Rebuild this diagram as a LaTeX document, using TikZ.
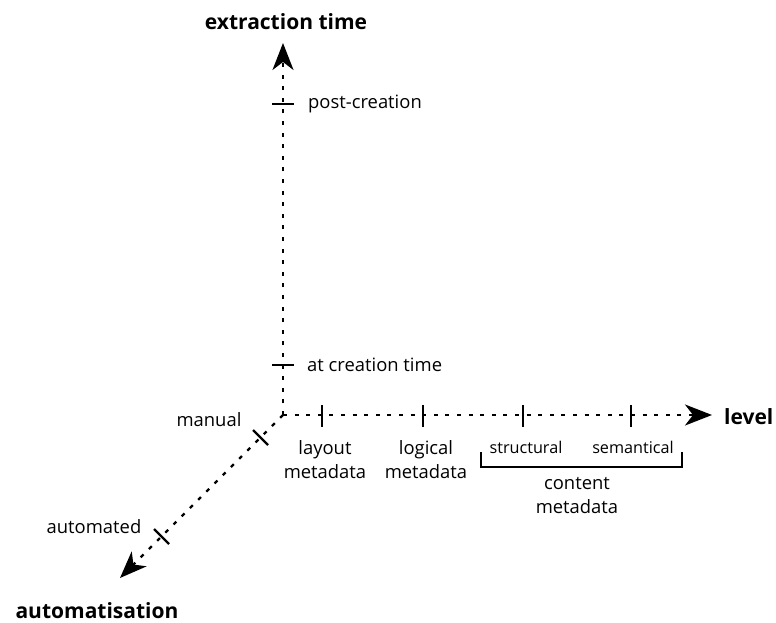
\documentclass[tikz,border=0pt]{standalone}
\usepackage{fontspec}
\setmainfont{Open Sans}
\usetikzlibrary{arrows.meta}
\begin{document}
\begin{tikzpicture}[x=1pt,y=-1pt,
  axis/.style={line width=2.2pt,dash pattern=on 4pt off 7.6pt,
    -{Stealth[length=27pt,width=21pt,inset=8pt]}},
  tick/.style={line width=2.4pt},
  brace/.style={line width=2pt},
  lbl/.style={inner sep=0pt,font=\fontsize{18.4}{21}\selectfont},
  small/.style={inner sep=0pt,font=\fontsize{16.2}{19}\selectfont},
  axlbl/.style={inner sep=0pt,font=\fontsize{21}{25}\bfseries},
  two/.style={lbl,align=center,font=\fontsize{18.4}{24}\selectfont}]
\useasboundingbox (0,0) rectangle (776,623);

% origin and axis tips
\coordinate (O) at (283,415);
\coordinate (ytip) at (283,43);
\coordinate (xtip) at (712,415);
\coordinate (ztip) at (120,578);

% axes
\draw[axis] (O) -- (ytip);
\draw[axis] (O) -- (xtip);
\draw[axis] (O) -- (ztip);

% axis names
\node[axlbl] (yname) at (286,22) {extraction time};
\node[axlbl,anchor=west] (xname) at (724,417) {level};
\node[axlbl] (zname) at (97,611) {automatisation};

% ticks on the time axis
\draw[tick] (272,104) -- (294,104);
\draw[tick] (272,365) -- (294,365);
\node[lbl,anchor=west] (post) at (308,104) {post-creation};
\node[lbl,anchor=west] (creation) at (307,365) {at creation time};

% ticks on the level axis
\foreach \x in {322,423,523,631}
  \draw[tick] (\x,405) -- (\x,427);
\node[two] (layout) at (325,460) {layout\\metadata};
\node[two] (logical) at (426,460) {logical\\metadata};
\node[small] (structural) at (526,447) {structural};
\node[small] (semantical) at (633,447) {semantical};
\draw[brace] (481,452) -- (481,467) -- (682,467) -- (682,452);
\node[two] (content) at (577,496) {content\\metadata};

% ticks on the automatisation axis
\draw[tick] (253,430) -- (268,445);
\draw[tick] (154,529) -- (169,544);
\node[lbl] (manual) at (209,420) {manual};
\node[lbl] (automated) at (94,527) {automated};
\end{tikzpicture}
\end{document}
